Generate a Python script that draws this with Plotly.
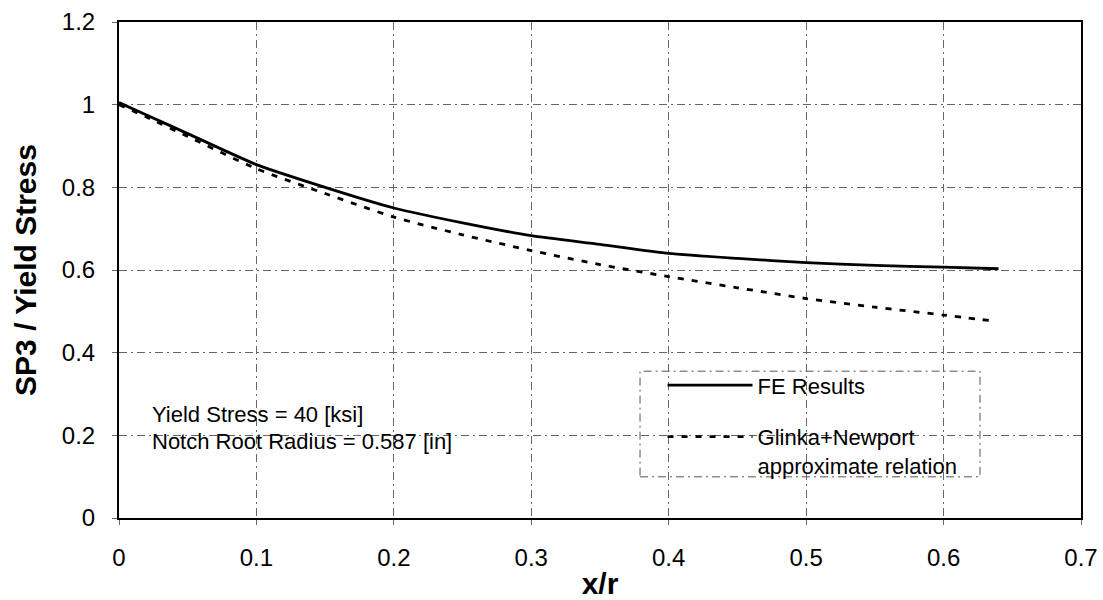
import plotly.graph_objects as go

# Normalised distance from the notch root
x_fe = [0.0, 0.02, 0.05, 0.10, 0.15, 0.20, 0.25, 0.30, 0.35, 0.40, 0.45, 0.50, 0.55, 0.60, 0.64]
# FE results: SP3 / yield stress
y_fe = [1.005, 0.975, 0.930, 0.855, 0.800, 0.750, 0.714, 0.683, 0.662, 0.640, 0.628, 0.618, 0.611, 0.607, 0.603]

x_gn = [0.0, 0.02, 0.05, 0.10, 0.15, 0.20, 0.25, 0.30, 0.35, 0.40, 0.45, 0.50, 0.55, 0.60, 0.635]
# Glinka + Newport approximate relation
y_gn = [1.000, 0.970, 0.923, 0.845, 0.785, 0.728, 0.685, 0.647, 0.613, 0.584, 0.557, 0.531, 0.510, 0.491, 0.477]

x_ticks = [0, 0.1, 0.2, 0.3, 0.4, 0.5, 0.6, 0.7]
y_ticks = [0, 0.2, 0.4, 0.6, 0.8, 1.0, 1.2]

FONT = "Liberation Sans, Arial, sans-serif"

fig = go.Figure()
fig.add_trace(go.Scatter(
    x=x_fe, y=y_fe, mode="lines", name="FE Results", legendgroup="fe",
    line=dict(color="black", width=2.8, shape="spline", smoothing=0.6),
))
fig.add_trace(go.Scatter(
    x=x_gn, y=y_gn, mode="lines", name="Glinka+Newport<br>approximate relation",
    legendgroup="gn",
    line=dict(color="black", width=2.8, dash="6px,8px", shape="spline", smoothing=0.6),
))

grid = dict(showgrid=True, gridcolor="#666666", gridwidth=1, griddash="8px,4px,2px,4px")

fig.update_xaxes(
    range=[0, 0.7], tickvals=x_ticks, ticktext=[f"{v:g}" for v in x_ticks],
    showline=True, linecolor="black", linewidth=2, mirror=True,
    ticks="outside", ticklen=5, tickcolor="#666666", tickwidth=1,
    tickfont=dict(family=FONT, size=24, color="black"),
    ticklabelstandoff=12, automargin=False,
    zeroline=False,
    title=dict(text="<b>x/r</b>", font=dict(family=FONT, size=30, color="black"), standoff=7),
    **grid,
)
fig.update_yaxes(
    range=[0, 1.2], tickvals=y_ticks, ticktext=[f"{v:g}" for v in y_ticks],
    showline=True, linecolor="black", linewidth=2, mirror=True,
    ticks="outside", ticklen=5, tickcolor="#666666", tickwidth=1,
    tickfont=dict(family=FONT, size=24, color="black"),
    ticklabelstandoff=12, automargin=False,
    zeroline=False,
    title=dict(text="<b>SP3 / Yield Stress</b>", font=dict(family=FONT, size=30, color="black"), standoff=16),
    **grid,
)

# Legend frame
fig.add_shape(type="rect", xref="paper", yref="paper",
              x0=0.5416, x1=0.895, y0=0.083, y1=0.296,
              line=dict(color="#555555", width=1, dash="8px,4px,2px,4px"),
              fillcolor="white", layer="below")

fig.add_annotation(x=0.0226, y=0.2505, xref="x", yref="y", text="Yield Stress = 40 [ksi]",
                   showarrow=False, xanchor="left", yanchor="middle",
                   font=dict(family=FONT, size=22, color="black"))
fig.add_annotation(x=0.0226, y=0.1855, xref="x", yref="y", text="Notch Root Radius = 0.587 [in]",
                   showarrow=False, xanchor="left", yanchor="middle",
                   font=dict(family=FONT, size=22, color="black"))

fig.update_layout(
    width=1103, height=600,
    margin=dict(l=119, r=22, t=22, b=82),
    paper_bgcolor="white", plot_bgcolor="white",
    showlegend=True,
    legend=dict(
        x=0.565, y=0.31, xanchor="left", yanchor="top",
        bgcolor="rgba(0,0,0,0)", borderwidth=0,
        font=dict(family=FONT, size=22, color="black"),
        itemwidth=85, traceorder="grouped", tracegroupgap=20, valign="top",
    ),
)

fig.write_html("out.html")
